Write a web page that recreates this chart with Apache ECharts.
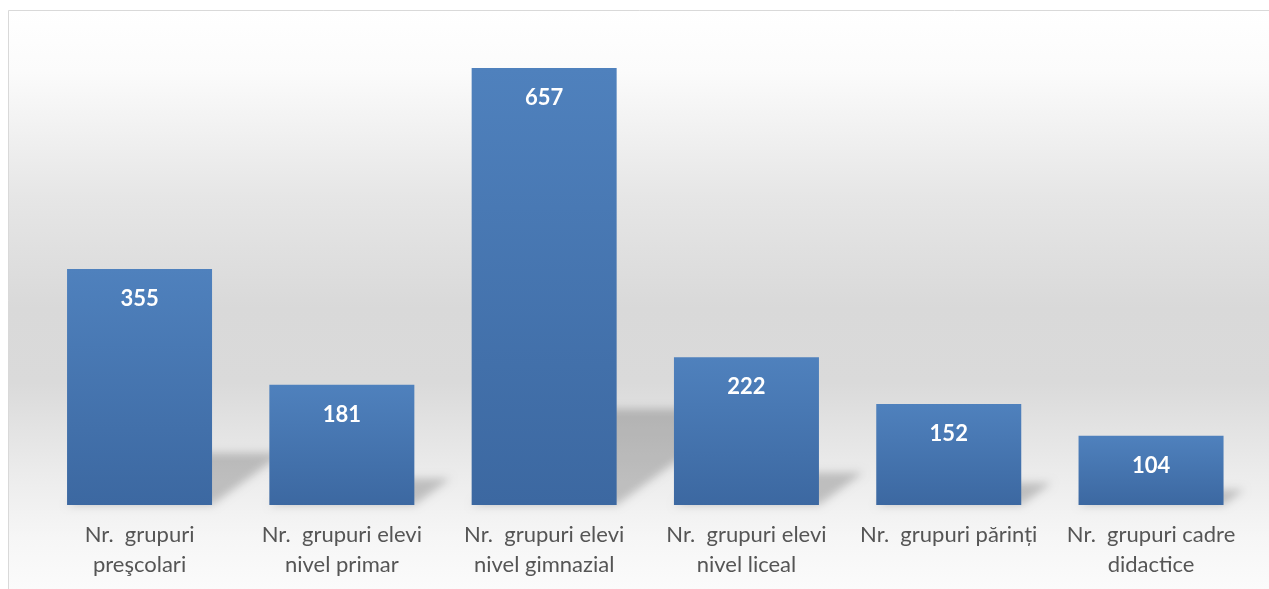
<!DOCTYPE html>
<html>
<head>
<meta charset="utf-8">
<script src="https://cdn.jsdelivr.net/npm/echarts@6/dist/echarts.min.js"></script>
<style>
  html, body { margin: 0; padding: 0; background: #fff; }
  #chart { width: 1269px; height: 589px; }
</style>
</head>
<body>
<div id="chart"></div>
<script>
// data
const categories = [
  'Nr.  grupuri\npreşcolari',
  'Nr.  grupuri elevi\nnivel primar',
  'Nr.  grupuri elevi\nnivel gimnazial',
  'Nr.  grupuri elevi\nnivel liceal',
  'Nr.  grupuri părinți',
  'Nr.  grupuri cadre\ndidactice'
]
const values = [355, 181, 657, 222, 152, 104]
const yMax = 700

const BAR_W = 145
const myEcharts = echarts.init(document.getElementById('chart'))

// floor shadow behind each bar, drawn off-screen so only the blurred shadow shows
const renderShadow = (params, api) => {
  const base = api.coord([api.value(0), 0])
  const top = api.coord([api.value(0), api.value(1)])
  const h = base[1] - top[1]
  const L = base[0] - BAR_W / 2, R = base[0] + BAR_W / 2, B = base[1]
  const dx = h * 0.3, dy = h * 0.22
  const off = 3000
  return {
    type: 'polygon',
    shape: {
      points: [[L - off, B], [R - off, B], [R + dx - off, B - dy], [L + dx - off, B - dy]]
    },
    style: {
      fill: '#000',
      shadowColor: 'rgba(0,0,0,0.2)',
      shadowBlur: 9,
      shadowOffsetX: off,
      shadowOffsetY: 0
    }
  }
}

const option = {
  animation: false,
  graphic: [{
    type: 'rect',
    z: -10,
    silent: true,
    shape: { x: 8.5, y: 10.5, width: 1300, height: 620 },
    style: {
      stroke: '#d9d9d9',
      lineWidth: 1,
      fill: {
        type: 'linear', x: 0, y: 0, x2: 0, y2: 1,
        colorStops: [
          { offset: 0, color: '#ffffff' },
          { offset: 0.1, color: '#fbfbfb' },
          { offset: 0.3, color: '#e6e6e6' },
          { offset: 0.48, color: '#d9d9d9' },
          { offset: 0.6, color: '#dadada' },
          { offset: 0.75, color: '#ececec' },
          { offset: 0.85, color: '#f6f6f6' },
          { offset: 1, color: '#ffffff' }
        ]
      }
    }
  }],
  grid: {
    left: 38.4,
    right: 16.8,
    top: 39.5,
    bottom: 84,
    containLabel: false
  },
  xAxis: {
    type: 'category',
    data: categories,
    axisTick: { show: false },
    axisLine: { show: false },
    axisLabel: {
      interval: 0,
      margin: 15,
      color: '#555555',
      fontFamily: 'Lato',
      fontSize: 22,
      lineHeight: 30
    }
  },
  yAxis: {
    type: 'value',
    min: 0,
    max: yMax,
    show: false,
    splitLine: { show: false }
  },
  series: [
    {
      type: 'custom',
      z: 1,
      renderItem: renderShadow,
      data: values.map((v, i) => [i, v]),
      silent: true
    },
    {
      type: 'bar',
      z: 3,
      data: values,
      barWidth: BAR_W,
      itemStyle: {
        color: {
          type: 'linear', x: 0, y: 0, x2: 0, y2: 1,
          colorStops: [
            { offset: 0, color: '#4f81bd' },
            { offset: 1, color: '#3c68a1' }
          ]
        }
      },
      label: {
        show: true,
        position: 'insideTop',
        distance: 19,
        color: '#ffffff',
        fontFamily: 'Lato',
        fontWeight: 'bold',
        fontSize: 22
      }
    }
  ]
}

myEcharts.setOption(option)
</script>
</body>
</html>
